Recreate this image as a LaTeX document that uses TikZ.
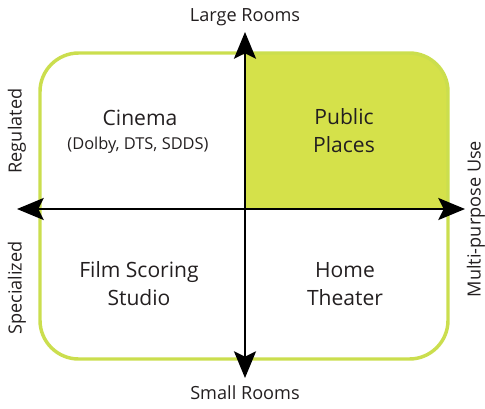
\documentclass[tikz,border=0pt]{standalone}
\usepackage{fontspec}
\setmainfont{Open Sans}
\usetikzlibrary{arrows.meta, positioning, calc}

\definecolor{limegreen}{RGB}{213,225,74}
\definecolor{limeline}{RGB}{203,222,78}
\definecolor{inkgray}{RGB}{35,31,32}

\tikzset{
    quad/.style={font=\fontsize{15.8}{21}\selectfont, align=center, text=inkgray},
    axislabel/.style={font=\fontsize{13.6}{16}\selectfont, text=inkgray},
    axis/.style={line width=1.5pt, draw=black, {Stealth[length=20pt, width=16.5pt, inset=4pt]}-{Stealth[length=20pt, width=16.5pt, inset=4pt]}}
}

\begin{document}
\begin{tikzpicture}[x=0.75pt, y=-0.75pt]
    \useasboundingbox (0,0) rectangle (485,408);

    % quadrant box, top right filled
    \begin{scope}
        \clip (245,50) rectangle (452,209);
        \fill[limegreen, rounded corners=29pt] (40,53) rectangle (448,359);
    \end{scope}
    \draw[limeline, line width=2.6pt, rounded corners=29pt] (40,53) rectangle (448,359);

    % axes ends
    \coordinate (top) at (245,32);
    \coordinate (bottom) at (245,378);
    \coordinate (left) at (17,209);
    \coordinate (right) at (465,209);

    \draw[axis] (bottom) -- (top);
    \draw[axis] (left) -- (right);

    % axis labels
    \node[axislabel] (large) at (245,17) {Large Rooms};
    \node[axislabel] (small) at (245,393) {Small Rooms};
    \node[axislabel, rotate=90] (regulated) at (17,131) {Regulated};
    \node[axislabel, rotate=90] (specialized) at (17,288) {Specialized};
    \node[axislabel, rotate=90, inner sep=0pt] (multi) at (476,219) {Multi-purpose Use};

    % quadrants
    \node[quad] (cinema) at (140,118) {Cinema};
    \node[quad, font=\fontsize{12.3}{15}\selectfont] (dolby) at (138,145) {(Dolby, DTS, SDDS)};
    \node[quad] (public) at (344,131) {Public\\Places};
    \node[quad] (film) at (139,284) {Film Scoring\\Studio};
    \node[quad] (home) at (345,284) {Home\\Theater};
\end{tikzpicture}
\end{document}
